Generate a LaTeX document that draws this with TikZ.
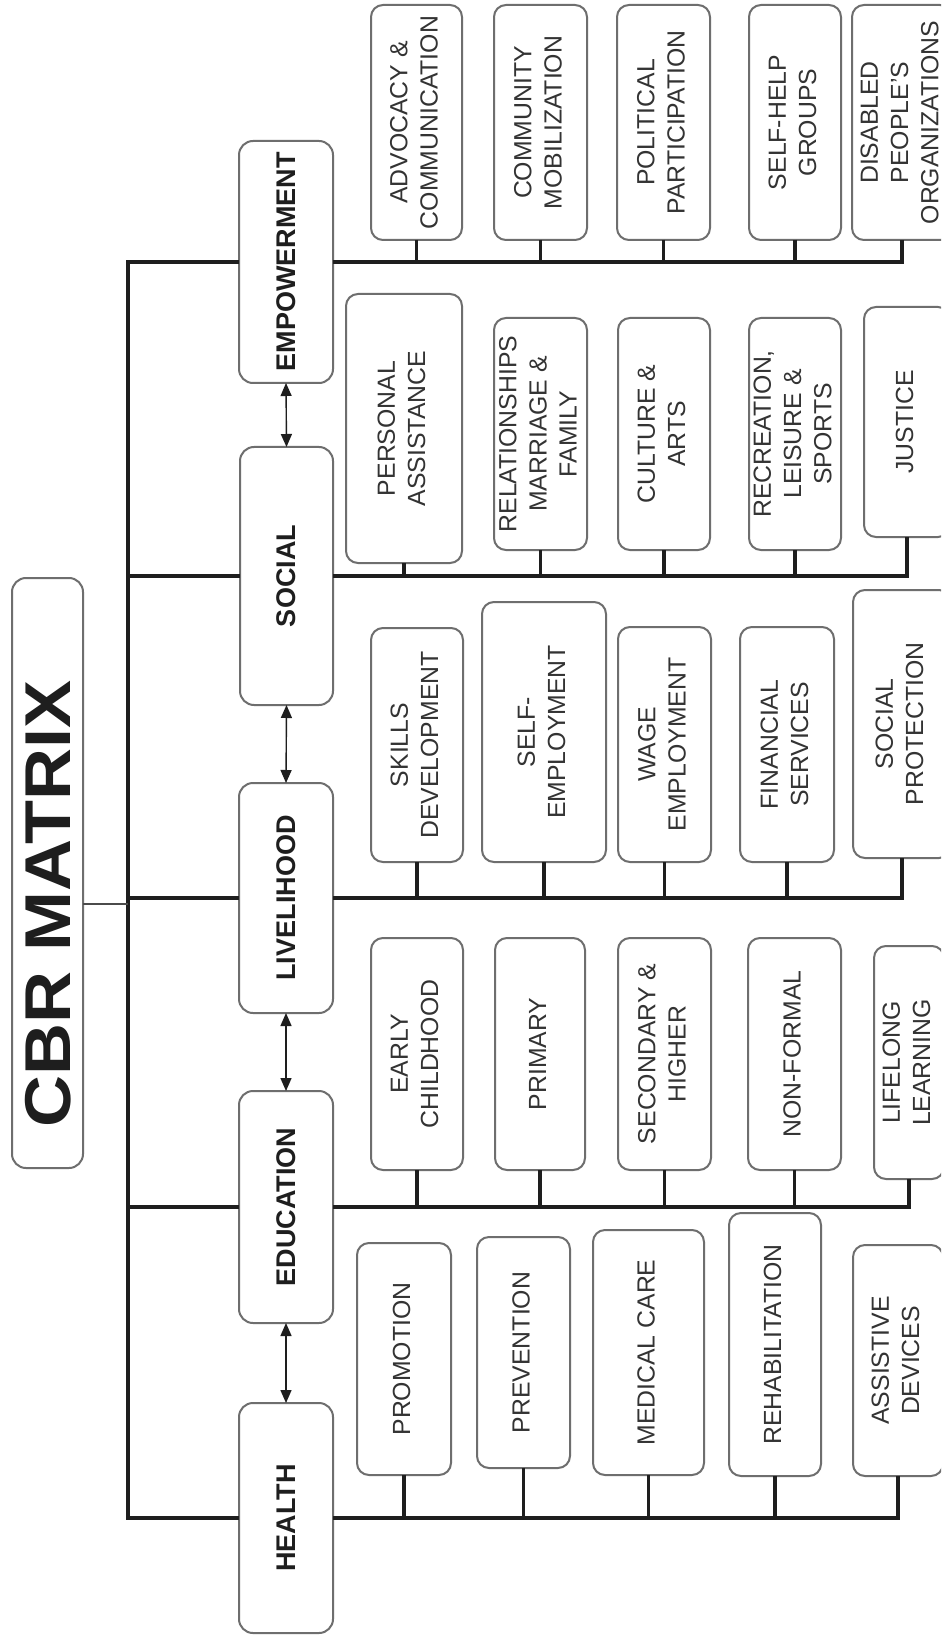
\documentclass[tikz,border=0pt]{standalone}
\usepackage{fontspec}
\setmainfont{Liberation Sans}
\usetikzlibrary{arrows.meta}
\definecolor{bord}{HTML}{6E6E6E}
\definecolor{ink}{HTML}{1E1E1E}
\definecolor{txt}{HTML}{333333}
\newcommand\rl[1]{\rotatebox{90}{\begin{tabular}{@{}c@{}}#1\end{tabular}}}
\newcommand\cbrbox[7]{\node[#1, minimum width={(#5-#3)*0.5pt}, minimum height={(#6-#4)*0.5pt}] (#2) at ({(#3+#5)/2},{(#4+#6)/2}) {#7};}
\begin{document}
\begin{tikzpicture}[x=0.5pt,y=-0.5pt,
 boxbase/.style={draw=bord, line width=1pt, rounded corners=6pt, fill=white, inner sep=0pt, outer sep=0pt},
 subbox/.style={boxbase, text=txt, font=\fontsize{12.4}{15.1}\selectfont},
 catbox/.style={boxbase, rounded corners=7pt, text=ink, font=\fontsize{13.5}{16}\selectfont\bfseries},
 titlebox/.style={boxbase, rounded corners=7pt},
 main/.style={draw=ink, line width=1.8pt},
 stub/.style={draw=ink, line width=1.6pt},
 cbrline/.style={draw=ink!80, line width=1pt},
 dbl/.style={draw=ink, line width=0.7pt, {Triangle[length=6.5pt,width=5.5pt]}-{Triangle[length=6.5pt,width=5.5pt]}},
]
\useasboundingbox (0,0) rectangle (941,1636);
\clip (0,0) rectangle (941,1636);
\fill[white] (0,0) rectangle (941,1636);

% title
\cbrbox{titlebox}{cbr}{12}{578}{83}{1168}{}
\node[font=\fontsize{36}{40}\selectfont\bfseries, text=ink, inner sep=0pt] (cbrt) at (48,904) {\rotatebox{90}{\scalebox{1}[0.9]{CBR MATRIX}}};

% categories
\cbrbox{catbox}{emp}{239}{141}{333}{383}{\rotatebox{90}{EMPOWERMENT}}
\cbrbox{catbox}{soc}{240}{447}{333}{705}{\rotatebox{90}{SOCIAL}}
\cbrbox{catbox}{liv}{239}{783}{333}{1013}{\rotatebox{90}{LIVELIHOOD}}
\cbrbox{catbox}{edu}{239}{1091}{333}{1323}{\rotatebox{90}{EDUCATION}}
\cbrbox{catbox}{hea}{239}{1403}{333}{1633}{\rotatebox{90}{HEALTH}}

% empowerment
\cbrbox{subbox}{e1}{371}{5}{462}{240}{\rl{ADVOCACY \&\\COMMUNICATION}}
\cbrbox{subbox}{e2}{494}{5}{587}{240}{\rl{COMMUNITY\\MOBILIZATION}}
\cbrbox{subbox}{e3}{617}{5}{710}{240}{\rl{POLITICAL\\PARTICIPATION}}
\cbrbox{subbox}{e4}{749}{5}{841}{240}{\rl{SELF-HELP\\GROUPS}}
\cbrbox{subbox}{e5}{852}{5}{952}{240}{\rl{DISABLED\\PEOPLE'S\\ORGANIZATIONS}}

% social
\cbrbox{subbox}{s1}{346}{294}{462}{563}{\rl{PERSONAL\\ASSISTANCE}}
\cbrbox{subbox}{s2}{494}{318}{587}{550}{\rl{RELATIONSHIPS\\MARRIAGE \&\\FAMILY}}
\cbrbox{subbox}{s3}{618}{318}{710}{550}{\rl{CULTURE \&\\ARTS}}
\cbrbox{subbox}{s4}{749}{318}{841}{550}{\rl{RECREATION,\\LEISURE \&\\SPORTS}}
\cbrbox{subbox}{s5}{864}{307}{950}{537}{\rl{JUSTICE}}

% livelihood
\cbrbox{subbox}{l1}{371}{628}{463}{862}{\rl{SKILLS\\DEVELOPMENT}}
\cbrbox{subbox}{l2}{482}{602}{606}{862}{\rl{SELF-\\EMPLOYMENT}}
\cbrbox{subbox}{l3}{618}{627}{711}{862}{\rl{WAGE\\EMPLOYMENT}}
\cbrbox{subbox}{l4}{740}{627}{834}{862}{\rl{FINANCIAL\\SERVICES}}
\cbrbox{subbox}{l5}{853}{590}{951}{858}{\rl{SOCIAL\\PROTECTION}}

% education
\cbrbox{subbox}{d1}{371}{938}{463}{1170}{\rl{EARLY\\CHILDHOOD}}
\cbrbox{subbox}{d2}{495}{938}{585}{1170}{\rl{PRIMARY}}
\cbrbox{subbox}{d3}{618}{938}{711}{1170}{\rl{SECONDARY \&\\HIGHER}}
\cbrbox{subbox}{d4}{748}{938}{841}{1170}{\rl{NON-FORMAL}}
\cbrbox{subbox}{d5}{874}{946}{944}{1179}{\rl{LIFELONG\\LEARNING}}

% health
\cbrbox{subbox}{h1}{357}{1243}{451}{1475}{\rl{PROMOTION}}
\cbrbox{subbox}{h2}{477}{1237}{570}{1468}{\rl{PREVENTION}}
\cbrbox{subbox}{h3}{593}{1230}{704}{1475}{\rl{MEDICAL CARE}}
\cbrbox{subbox}{h4}{729}{1213}{821}{1476}{\rl{REHABILITATION}}
\cbrbox{subbox}{h5}{853}{1245}{943}{1476}{\rl{ASSISTIVE\\DEVICES}}

% trunk and branches
\coordinate (tr) at (128,1518);
\draw[main] (emp.west) -| (tr) -- (hea.west);
\draw[main] (tr |- soc.west) -- (soc.west);
\draw[main] (tr |- liv.west) -- (liv.west);
\draw[main] (tr |- edu.west) -- (edu.west);
\draw[cbrline] (cbrt -| cbr.east) -- (cbrt -| tr);

% right branch lines with stubs
\draw[main] (emp.east) -| (e5.south);
\draw[main] (soc.east) -| (s5.south);
\draw[main] (liv.east) -| (l5.south);
\draw[main] (edu.east) -| (d5.south);
\draw[main] (hea.east) -| (h5.south);
\foreach \n in {e1,e2,e3,e4} \draw[stub] (\n.south) -- (\n.south |- emp.east);
\foreach \n in {s1,s2,s3,s4} \draw[stub] (\n.south) -- (\n.south |- soc.east);
\foreach \n in {l1,l2,l3,l4} \draw[stub] (\n.south) -- (\n.south |- liv.east);
\foreach \n in {d1,d2,d3,d4} \draw[stub] (\n.south) -- (\n.south |- edu.east);
\foreach \n in {h1,h2,h3,h4} \draw[stub] (\n.south) -- (\n.south |- hea.east);

% arrows between categories
\draw[dbl] (hea.north) -- (edu.south);
\draw[dbl] (edu.north) -- (liv.south);
\draw[dbl] (liv.north) -- (soc.south);
\draw[dbl] (soc.north) -- (emp.south);
\end{tikzpicture}
\end{document}
